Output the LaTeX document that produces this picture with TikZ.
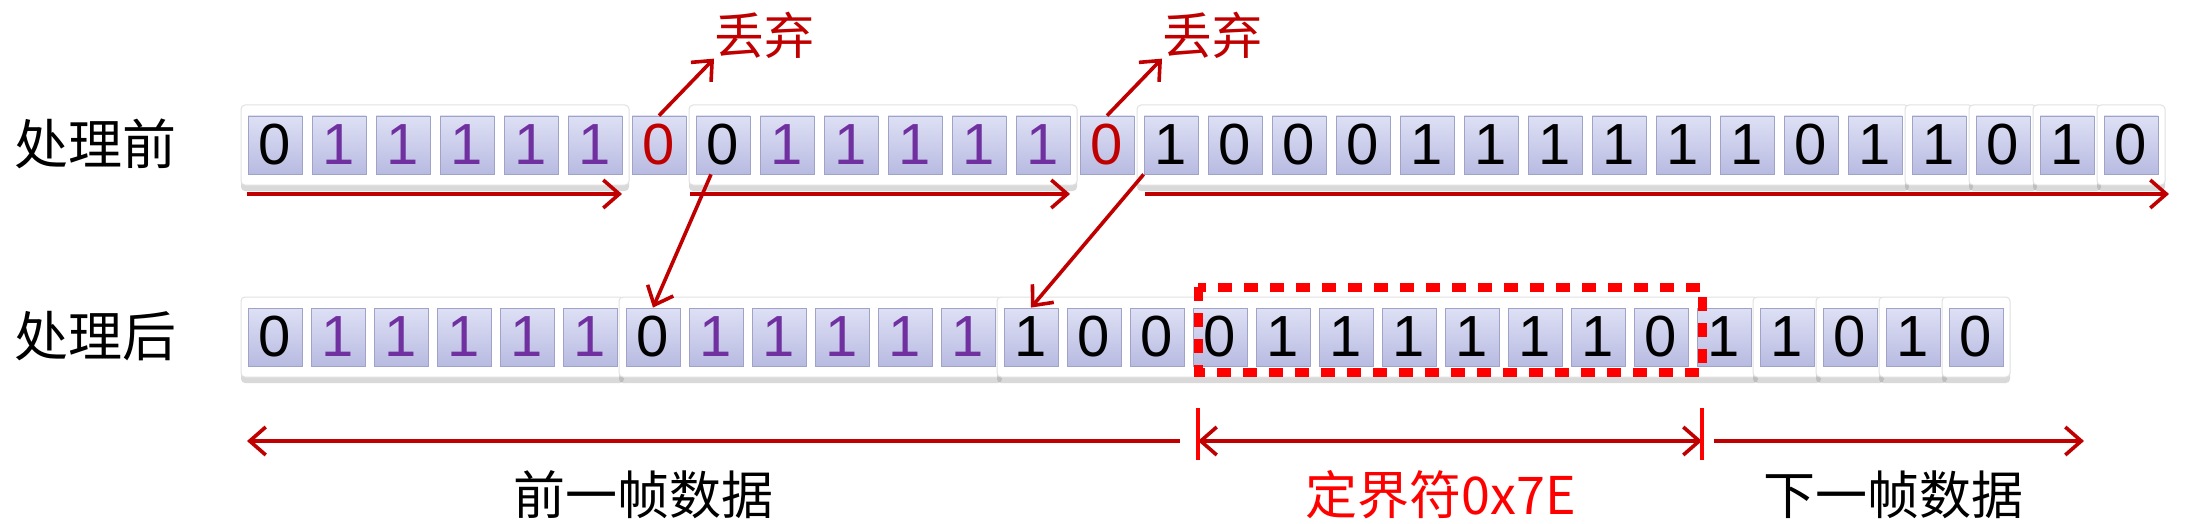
\documentclass[tikz,border=0pt]{standalone}
\usepackage{fontspec}
\setmainfont{Liberation Sans}
\newfontfamily\cjk{Noto Sans CJK SC}
\usetikzlibrary{arrows.meta,shadows}
\definecolor{dred}{HTML}{C00000}
\definecolor{vio}{HTML}{7030A0}
\definecolor{rr}{HTML}{C00000}
\definecolor{bred}{HTML}{FF0000}
\begin{document}
\begin{tikzpicture}[x=0.5pt,y=-0.5pt,
  cell/.style={minimum width=27pt,minimum height=29pt,inner sep=0pt,
    top color={rgb,255:red,222;green,224;blue,245},bottom color={rgb,255:red,184;green,187;blue,225},
    draw={rgb,255:red,160;green,162;blue,200},line width=0.4pt,font=\fontsize{29}{29}\selectfont},
  grp/.style={fill=white,draw={rgb,255:red,225;green,225;blue,225},line width=0.5pt,rounded corners=2pt,
    drop shadow={shadow xshift=0pt,shadow yshift=-3pt,opacity=0.3}},
  tip/.tip={Straight Barb[length=8pt,width=14pt,line width=1.8pt]},
  arr/.style={draw=dred,line width=1.8pt,-tip},
  darr/.style={draw=dred,line width=1.8pt,tip-tip},
  larr/.style={draw=dred,line width=1.8pt,tip-},
  lab/.style={font=\cjk\fontsize{25}{25}\selectfont,inner sep=0pt}]
\useasboundingbox (0,0) rectangle (2190,524);
% group frames top
\foreach \a/\b in {0/5,7/12,14/25,26/26,27/27,28/28,29/29}{
  \fill[grp] ({275+64*\a-34},{145-40}) rectangle ({275+64*\b+34},{145+40});}
% group frames bottom
\foreach \a/\b in {0/5,6/11,12/23,24/24,25/25,26/26,27/27}{
  \fill[grp] ({275+63*\a-34},{337-40}) rectangle ({275+63*\b+34},{337+40});}
% top cells
\foreach \d/\c [count=\i from 0] in {0/black,1/vio,1/vio,1/vio,1/vio,1/vio,0/rr,0/black,1/vio,1/vio,1/vio,1/vio,1/vio,0/rr,
  1/black,0/black,0/black,0/black,1/black,1/black,1/black,1/black,1/black,1/black,0/black,1/black,1/black,0/black,1/black,0/black}{
  \node[cell,text=\c] (t\i) at ({275+64*\i},145) {\d};}
% bottom cells
\foreach \d/\c [count=\i from 0] in {0/black,1/vio,1/vio,1/vio,1/vio,1/vio,0/black,1/vio,1/vio,1/vio,1/vio,1/vio,
  1/black,0/black,0/black,0/black,1/black,1/black,1/black,1/black,1/black,1/black,0/black,1/black,1/black,0/black,1/black,0/black}{
  \node[cell,text=\c] (b\i) at ({275+63*\i},337) {\d};}
% row labels
\node[lab,font=\cjk\fontsize{27}{27}\selectfont] (pre) at (95,144) {处理前};
\node[lab,font=\cjk\fontsize{27}{27}\selectfont] (post) at (95,336) {处理后};
% discard
\node[lab,text=dred,anchor=west] (d1) at (714,35) {丢弃};
\node[lab,text=dred,anchor=west] (d2) at (1162,35) {丢弃};
\draw[arr] (t6.north) -- (d1.south west);
\draw[arr] (t13.north) -- (d2.south west);
% top flow arrows
\coordinate (a1s) at (247,194); \coordinate (a1e) at (622,194);
\coordinate (a2s) at (690,194); \coordinate (a2e) at (1070,194);
\coordinate (a3s) at (1145,194); \coordinate (a3e) at (2169,194);
\draw[arr] (a1s) -- (a1e);
\draw[arr] (a2s) -- (a2e);
\draw[arr] (a3s) -- (a3e);
% diagonal moves
\draw[arr] ([xshift=-6pt]t7.south) -- (b6.north);
\draw[arr] (t14.south west) -- (b12.north);
% delimiter box
\draw[bred,line width=4.5pt,dash pattern=on 7pt off 6pt] (1198,287) rectangle (1702,372);
% bottom arrows
\coordinate (l1) at (247,441); \coordinate (l2) at (1180,441);
\coordinate (m1) at (1198,441); \coordinate (m2) at (1702,441);
\coordinate (r1) at (1714,441); \coordinate (r2) at (2084,441);
\draw[larr] (l1) -- (l2);
\draw[darr] (m1) -- (m2);
\draw[arr] (r1) -- (r2);
\coordinate (k1a) at (1198,408); \coordinate (k1b) at (1198,460);
\coordinate (k2a) at (1702,408); \coordinate (k2b) at (1702,460);
\draw[bred,line width=2pt] (k1a) -- (k1b);
\draw[bred,line width=2pt] (k2a) -- (k2b);
% bottom labels
\node[lab,font=\cjk\fontsize{26}{26}\selectfont] (f1) at (643,495) {前一帧数据};
\node[lab,font=\cjk\fontsize{26}{26}\selectfont,text=bred] (f2) at (1441,495) {定界符0x7E};
\node[lab,font=\cjk\fontsize{26}{26}\selectfont] (f3) at (1893,495) {下一帧数据};
\end{tikzpicture}
\end{document}
